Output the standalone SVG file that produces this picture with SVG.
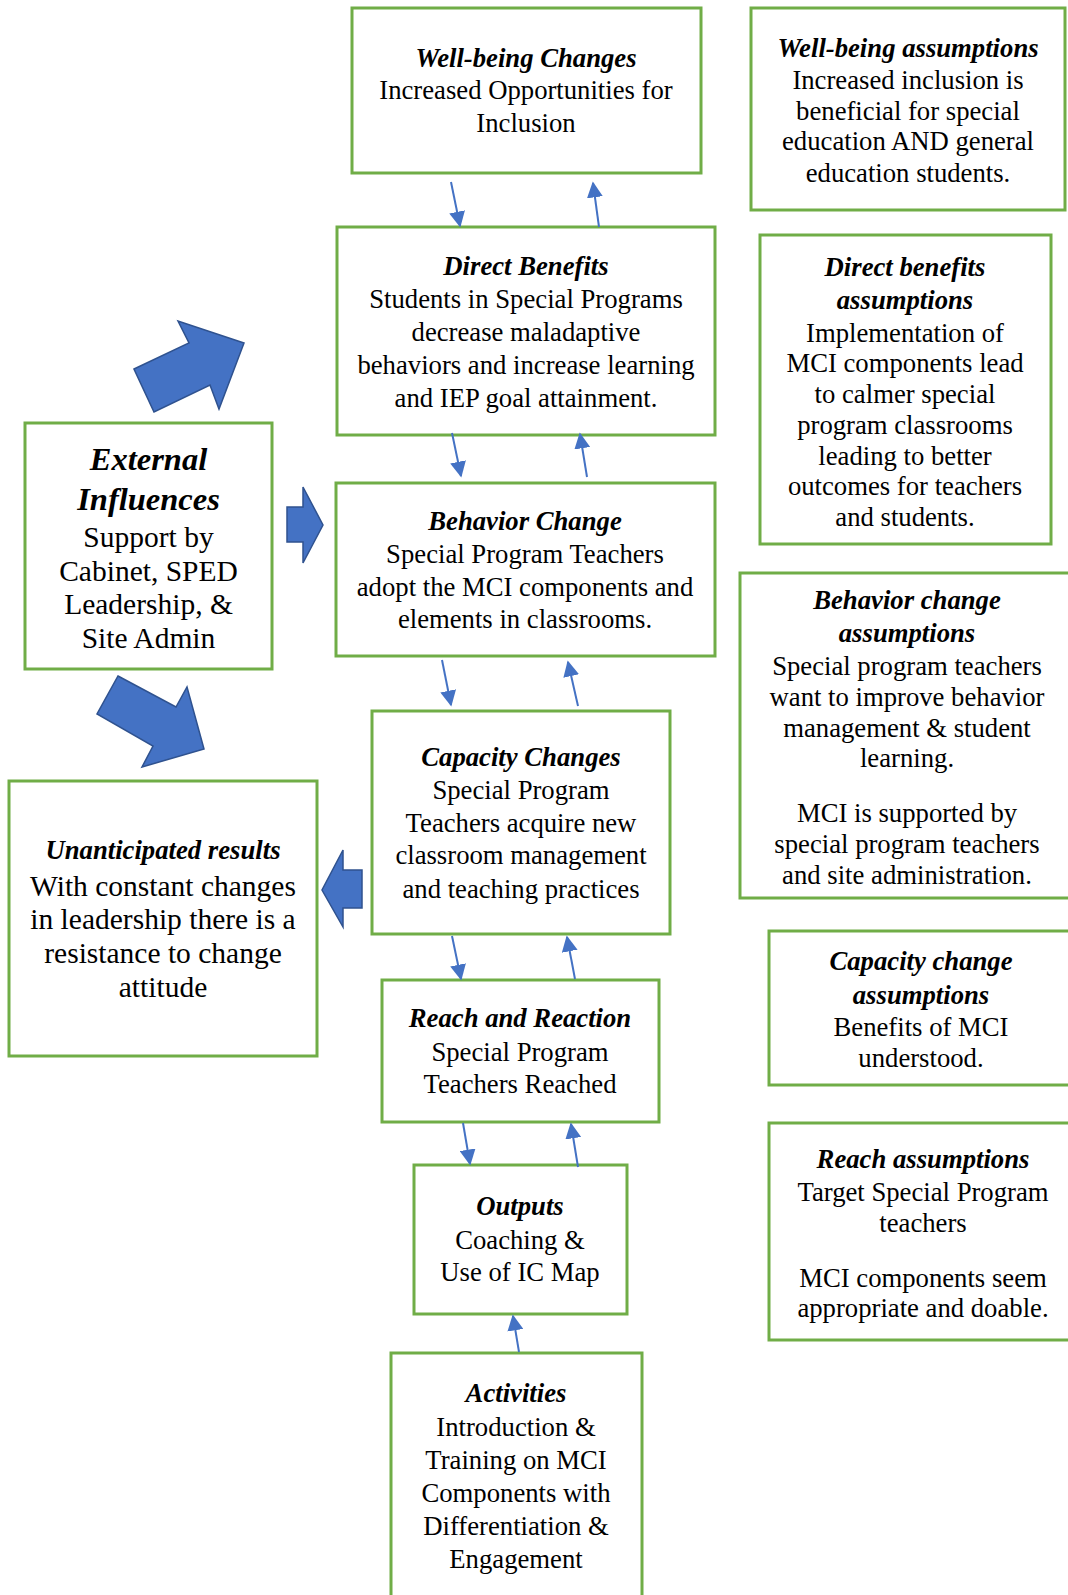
<svg xmlns="http://www.w3.org/2000/svg" width="1068" height="1595" viewBox="0 0 1068 1595">
<defs>
<style>
.box{fill:#fff;stroke:#70AD47;stroke-width:3}
text{font-family:'Liberation Serif','Times New Roman',serif;fill:#000;text-anchor:middle}
.m{font-size:26.7px}
.b{font-size:29.5px}
.h{font-size:32.5px}
.t{font-weight:bold;font-style:italic}
.conn{stroke:#4472C4;stroke-width:2;fill:none;marker-end:url(#ah)}
.blk{fill:#4472C4;stroke:#2F528F;stroke-width:1.5}
</style>
<marker id="ah" viewBox="0 0 10 10" refX="9" refY="5" markerWidth="8" markerHeight="8" markerUnits="strokeWidth" orient="auto">
<path d="M0,0 L10,5 L0,10 Z" fill="#4472C4"/>
</marker>
</defs>
<rect width="1068" height="1595" fill="#fff"/>

<g id="wellbeing-changes">
<rect class="box" x="352" y="8" width="349" height="165"/>
<text class="m t" x="526" y="67">Well-being Changes</text>
<text class="m" x="526" y="99">Increased Opportunities for</text>
<text class="m" x="526" y="132">Inclusion</text>
</g>

<g id="wellbeing-assumptions">
<rect class="box" x="751" y="8" width="314" height="202"/>
<text class="m t" x="908" y="57">Well-being assumptions</text>
<text class="m" x="908" y="89">Increased inclusion is</text>
<text class="m" x="908" y="120">beneficial for special</text>
<text class="m" x="908" y="150">education AND general</text>
<text class="m" x="908" y="182">education students.</text>
</g>

<g id="direct-benefits">
<rect class="box" x="337" y="227" width="378" height="208"/>
<text class="m t" x="526" y="275">Direct Benefits</text>
<text class="m" x="526" y="308">Students in Special Programs</text>
<text class="m" x="526" y="341">decrease maladaptive</text>
<text class="m" x="526" y="374">behaviors and increase learning</text>
<text class="m" x="526" y="407">and IEP goal attainment.</text>
</g>

<g id="direct-benefits-assumptions">
<rect class="box" x="760" y="235" width="291" height="309"/>
<text class="m t" x="905" y="276">Direct benefits</text>
<text class="m t" x="905" y="309">assumptions</text>
<text class="m" x="905" y="342">Implementation of</text>
<text class="m" x="905" y="372">MCI components lead</text>
<text class="m" x="905" y="403">to calmer special</text>
<text class="m" x="905" y="434">program classrooms</text>
<text class="m" x="905" y="465">leading to better</text>
<text class="m" x="905" y="495">outcomes for teachers</text>
<text class="m" x="905" y="526">and students.</text>
</g>

<g id="external-influences">
<rect class="box" x="25" y="423" width="247" height="246"/>
<text class="h t" x="148.5" y="470">External</text>
<text class="h t" x="148.5" y="510">Influences</text>
<text class="b" x="148.5" y="547">Support by</text>
<text class="b" x="148.5" y="581">Cabinet, SPED</text>
<text class="b" x="148.5" y="614">Leadership, &amp;</text>
<text class="b" x="148.5" y="648">Site Admin</text>
</g>

<g id="behavior-change">
<rect class="box" x="336" y="483" width="379" height="173"/>
<text class="m t" x="525" y="530">Behavior Change</text>
<text class="m" x="525" y="563">Special Program Teachers</text>
<text class="m" x="525" y="596">adopt the MCI components and</text>
<text class="m" x="525" y="628">elements in classrooms.</text>
</g>

<g id="behavior-change-assumptions">
<rect class="box" x="740" y="573" width="340" height="325"/>
<text class="m t" x="907" y="609">Behavior change</text>
<text class="m t" x="907" y="642">assumptions</text>
<text class="m" x="907" y="675">Special program teachers</text>
<text class="m" x="907" y="706">want to improve behavior</text>
<text class="m" x="907" y="737">management &amp; student</text>
<text class="m" x="907" y="767">learning.</text>
<text class="m" x="907" y="822">MCI is supported by</text>
<text class="m" x="907" y="853">special program teachers</text>
<text class="m" x="907" y="884">and site administration.</text>
</g>

<g id="capacity-changes">
<rect class="box" x="372" y="711" width="298" height="223"/>
<text class="m t" x="521" y="766">Capacity Changes</text>
<text class="m" x="521" y="799">Special Program</text>
<text class="m" x="521" y="832">Teachers acquire new</text>
<text class="m" x="521" y="864">classroom management</text>
<text class="m" x="521" y="898">and teaching practices</text>
</g>

<g id="unanticipated-results">
<rect class="box" x="9" y="781" width="308" height="275"/>
<text class="m t" x="163" y="859">Unanticipated results</text>
<text class="b" x="163" y="896">With constant changes</text>
<text class="b" x="163" y="929">in leadership there is a</text>
<text class="b" x="163" y="963">resistance to change</text>
<text class="b" x="163" y="997">attitude</text>
</g>

<g id="capacity-change-assumptions">
<rect class="box" x="769" y="931" width="310" height="154"/>
<text class="m t" x="921" y="970">Capacity change</text>
<text class="m t" x="921" y="1004">assumptions</text>
<text class="m" x="921" y="1036">Benefits of MCI</text>
<text class="m" x="921" y="1067">understood.</text>
</g>

<g id="reach-and-reaction">
<rect class="box" x="382" y="980" width="277" height="142"/>
<text class="m t" x="520" y="1027">Reach and Reaction</text>
<text class="m" x="520" y="1061">Special Program</text>
<text class="m" x="520" y="1093">Teachers Reached</text>
</g>

<g id="reach-assumptions">
<rect class="box" x="769" y="1123" width="310" height="217"/>
<text class="m t" x="923" y="1168">Reach assumptions</text>
<text class="m" x="923" y="1201">Target Special Program</text>
<text class="m" x="923" y="1232">teachers</text>
<text class="m" x="923" y="1287">MCI components seem</text>
<text class="m" x="923" y="1317">appropriate and doable.</text>
</g>

<g id="outputs">
<rect class="box" x="414" y="1165" width="213" height="149"/>
<text class="m t" x="520" y="1215">Outputs</text>
<text class="m" x="520" y="1249">Coaching &amp;</text>
<text class="m" x="520" y="1281">Use of IC Map</text>
</g>

<g id="activities">
<rect class="box" x="391" y="1353" width="251" height="260"/>
<text class="m t" x="516" y="1402">Activities</text>
<text class="m" x="516" y="1436">Introduction &amp;</text>
<text class="m" x="516" y="1469">Training on MCI</text>
<text class="m" x="516" y="1502">Components with</text>
<text class="m" x="516" y="1535">Differentiation &amp;</text>
<text class="m" x="516" y="1568">Engagement</text>
</g>

<g id="connectors">
<line class="conn" x1="451" y1="182" x2="460" y2="226"/>
<line class="conn" x1="599" y1="227" x2="593" y2="183"/>
<line class="conn" x1="452" y1="433" x2="461" y2="476"/>
<line class="conn" x1="587" y1="477" x2="580" y2="434"/>
<line class="conn" x1="442" y1="660" x2="451" y2="705"/>
<line class="conn" x1="578" y1="706" x2="568" y2="662"/>
<line class="conn" x1="452" y1="936" x2="461" y2="979"/>
<line class="conn" x1="575" y1="979" x2="567" y2="937"/>
<line class="conn" x1="463" y1="1123" x2="470" y2="1164"/>
<line class="conn" x1="578" y1="1167" x2="571" y2="1124"/>
<line class="conn" x1="519" y1="1352" x2="513" y2="1316"/>
<polygon class="blk" points="134,369 189,343 178,321 244,343 219,409 210,385 154,412"/>
<polygon class="blk" points="287,507 303,507 303,487 323,525 303,563 303,542 287,542"/>
<polygon class="blk" points="118,676 176,707 187,687 204,749 142,767 153,746 97,714"/>
<polygon class="blk" points="362,870 343,870 343,850 322,890 343,927 343,908 362,908"/>
</g>
</svg>
